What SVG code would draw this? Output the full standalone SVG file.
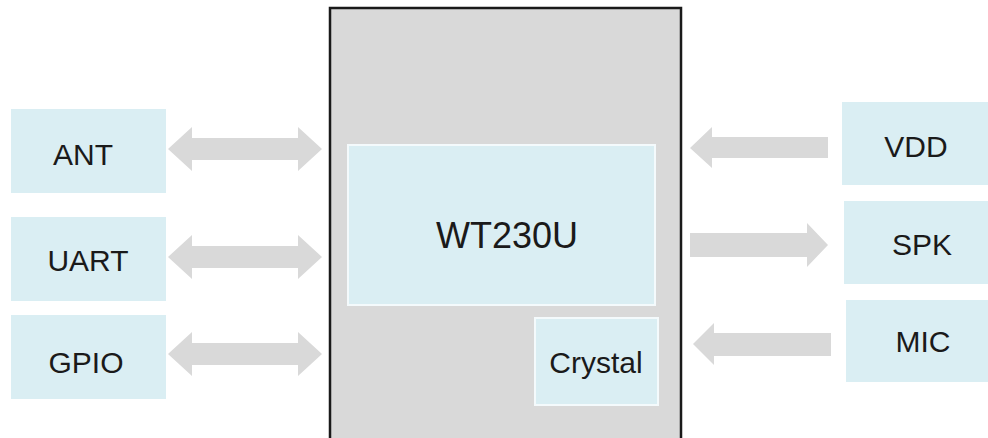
<svg xmlns="http://www.w3.org/2000/svg" width="988" height="438" viewBox="0 0 988 438">
<style>
.box{fill:#DAEEF3}
.inner{fill:#DAEEF3;stroke:#F4FAFC;stroke-width:2}
.arr{fill:#D9D9D9}
.t{font-family:"Liberation Sans",Arial,sans-serif;font-size:30px;fill:#1a1a1a;text-anchor:middle}
</style>
<rect width="988" height="438" fill="#fff"/>
<g id="main">
<rect x="330" y="8" width="351" height="432" fill="#D9D9D9" stroke="#1a1a1a" stroke-width="2.5"/>
</g>
<g id="wt230u">
<rect class="inner" x="348" y="145" width="307" height="160"/>
<text class="t" x="507" y="248" style="font-size:36px">WT230U</text>
</g>
<g id="crystal">
<rect class="inner" x="535" y="318" width="123" height="87"/>
<text class="t" x="596" y="373">Crystal</text>
</g>
<g id="ant"><rect class="box" x="11" y="109" width="155" height="84"/><text class="t" x="83" y="165">ANT</text></g>
<g id="uart"><rect class="box" x="11" y="217" width="155" height="84"/><text class="t" x="88" y="271">UART</text></g>
<g id="gpio"><rect class="box" x="11" y="315" width="155" height="84"/><text class="t" x="86" y="373">GPIO</text></g>
<g id="vdd"><rect class="box" x="842" y="102" width="146" height="83"/><text class="t" x="916" y="157">VDD</text></g>
<g id="spk"><rect class="box" x="844" y="201" width="144" height="83"/><text class="t" x="922" y="255">SPK</text></g>
<g id="mic"><rect class="box" x="846" y="300" width="142" height="82"/><text class="t" x="923" y="352">MIC</text></g>
<g id="connectors">
<polygon class="arr" points="168,149 192,127 192,138 298,138 298,127 322,149 298,171 298,160 192,160 192,171"/>
<polygon class="arr" points="168,257 192,235 192,246 298,246 298,235 322,257 298,279 298,268 192,268 192,279"/>
<polygon class="arr" points="168,354 192,332 192,343 298,343 298,332 322,354 298,376 298,365 192,365 192,376"/>
<polygon class="arr" points="690,148 712,127 712,137 828,137 828,158 712,158 712,168"/>
<polygon class="arr" points="828,245 807,223 807,233 690,233 690,257 807,257 807,267"/>
<polygon class="arr" points="693,344 714,323 714,333 831,333 831,356 714,356 714,365"/>
</g>
</svg>
